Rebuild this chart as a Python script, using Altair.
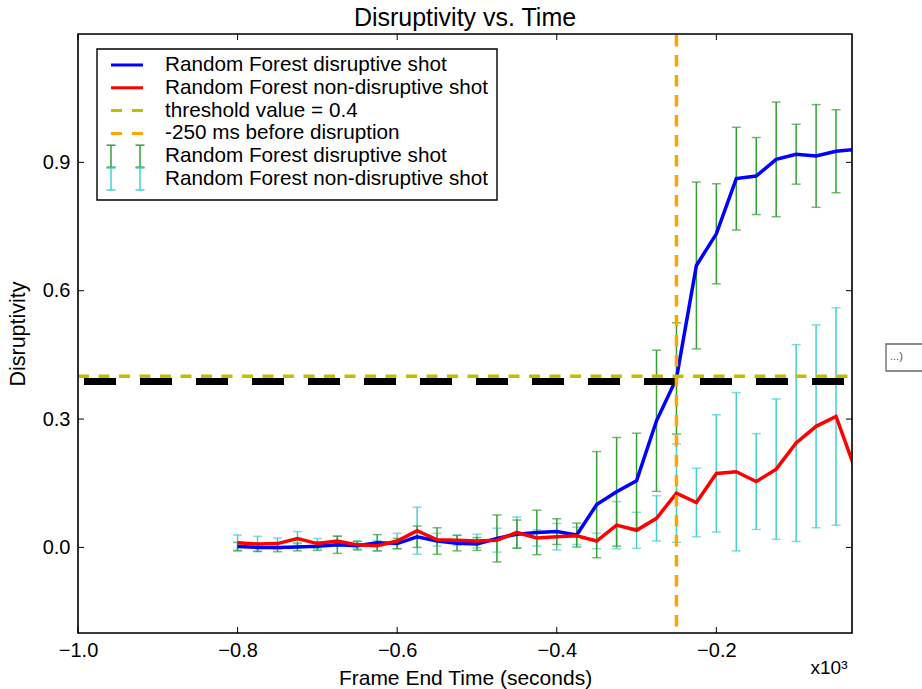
import altair as alt
import pandas as pd

# ---------------- data ----------------
frame_end_time = [-0.800, -0.775, -0.750, -0.725, -0.700, -0.675, -0.650, -0.625,
                  -0.600, -0.575, -0.550, -0.525, -0.500, -0.475, -0.450, -0.425,
                  -0.400, -0.375, -0.350, -0.325, -0.300, -0.275, -0.250, -0.225,
                  -0.200, -0.175, -0.150, -0.125, -0.100, -0.075, -0.050, -0.025]

rf_disruptive = [0.002, 0.000, 0.000, 0.001, 0.003, 0.006, 0.004, 0.011,
                 0.009, 0.025, 0.015, 0.010, 0.008, 0.021, 0.031, 0.035,
                 0.037, 0.029, 0.100, 0.130, 0.156, 0.296, 0.395, 0.659,
                 0.733, 0.862, 0.868, 0.907, 0.919, 0.915, 0.926, 0.930]

rf_disruptive_err = [0.010, 0.009, 0.010, 0.009, 0.010, 0.020, 0.010, 0.019,
                     0.012, 0.025, 0.031, 0.018, 0.015, 0.055, 0.033, 0.052,
                     0.030, 0.028, 0.124, 0.127, 0.111, 0.165, 0.130, 0.195,
                     0.117, 0.120, 0.090, 0.134, 0.070, 0.120, 0.097, 0.100]

rf_non_disruptive = [0.011, 0.008, 0.009, 0.021, 0.009, 0.015, 0.006, 0.004,
                     0.015, 0.039, 0.018, 0.017, 0.015, 0.017, 0.035, 0.022,
                     0.025, 0.027, 0.015, 0.052, 0.040, 0.068, 0.127, 0.105,
                     0.173, 0.177, 0.154, 0.183, 0.244, 0.283, 0.306, 0.178]

rf_non_disruptive_err = [0.018, 0.018, 0.013, 0.016, 0.012, 0.012, 0.009, 0.012,
                         0.018, 0.055, 0.015, 0.012, 0.016, 0.028, 0.036, 0.019,
                         0.031, 0.020, 0.018, 0.055, 0.042, 0.053, 0.115, 0.080,
                         0.137, 0.185, 0.112, 0.164, 0.230, 0.237, 0.254, 0.200]

threshold_value = 0.4
disruption_time = -0.25
black_line_value = 0.388

x_ticks = [-1.0, -0.8, -0.6, -0.4, -0.2]
y_ticks = [0.0, 0.3, 0.6, 0.9]

legend_labels = ["Random Forest disruptive shot",
                 "Random Forest non-disruptive shot",
                 "threshold value = 0.4",
                 "-250 ms before disruption",
                 "Random Forest disruptive shot",
                 "Random Forest non-disruptive shot"]

# ---------------- styling ----------------
W, H = 774, 599
FONT = "Liberation Sans"
BLUE, RED = "#0000ff", "#ff0000"
OLIVE, ORANGE = "#bfbf00", "#ffa500"
GREEN, CYAN = "#34a034", "#44d0d0"
TXT = 20

df = pd.DataFrame({
    "t": frame_end_time,
    "d": rf_disruptive,
    "de": rf_disruptive_err,
    "n": rf_non_disruptive,
    "ne": rf_non_disruptive_err,
})
df["d_lo"] = df["d"] - df["de"]
df["d_hi"] = df["d"] + df["de"]
df["n_lo"] = df["n"] - df["ne"]
df["n_hi"] = df["n"] + df["ne"]

xs = alt.Scale(domain=[-1.0, -0.03], nice=False, zero=False)
ys = alt.Scale(domain=[-0.2, 1.2], nice=False, zero=False)

xaxis = alt.Axis(values=x_ticks, format=".1f", title="Frame End Time (seconds)",
                 ticks=False, domain=False, grid=False, labelPadding=7,
                 titlePadding=7, labelFontSize=TXT, titleFontSize=21,
                 titleFontWeight="normal", labelFont=FONT, titleFont=FONT,
                 labelColor="black", titleColor="black", labelFlush=False)
yaxis = alt.Axis(values=y_ticks, format=".1f", title="Disruptivity",
                 ticks=False, domain=False, grid=False, labelPadding=8,
                 titlePadding=13, labelFontSize=TXT, titleFontSize=21.5,
                 titleFontWeight="normal", labelFont=FONT, titleFont=FONT,
                 labelColor="black", titleColor="black")

X = alt.X("t:Q", scale=xs, axis=xaxis)

def Y(field):
    return alt.Y(f"{field}:Q", scale=ys, axis=yaxis)

base = alt.Chart(df)

# error bars
def errbars(lo, hi, color):
    stem = base.mark_rule(color=color, strokeWidth=1.5, clip=True).encode(
        x=X, y=Y(lo), y2=alt.Y2(f"{hi}:Q"))
    cap_lo = base.mark_tick(color=color, orient="horizontal", size=9,
                            thickness=1.5, clip=True).encode(x=X, y=Y(lo))
    cap_hi = base.mark_tick(color=color, orient="horizontal", size=9,
                            thickness=1.5, clip=True).encode(x=X, y=Y(hi))
    return [stem, cap_lo, cap_hi]

layers = []
layers += errbars("n_lo", "n_hi", CYAN)
layers += errbars("d_lo", "d_hi", GREEN)

line_d = base.mark_line(color=BLUE, strokeWidth=3.5, clip=True).encode(x=X, y=Y("d"))
line_n = base.mark_line(color=RED, strokeWidth=3.5, clip=True).encode(x=X, y=Y("n"))
layers += [line_d, line_n]

thr = alt.Chart(pd.DataFrame({"v": [threshold_value]})).mark_rule(
    color=OLIVE, strokeWidth=3.5, strokeDash=[11, 9.5]).encode(
    y=Y("v"), x=alt.value(0), x2=alt.value(W))
blk = alt.Chart(pd.DataFrame({"v": [black_line_value]})).mark_rule(
    color="black", strokeWidth=7, strokeDash=[32, 24], strokeDashOffset=50).encode(
    y=Y("v"), x=alt.value(0), x2=alt.value(W))
dis = alt.Chart(pd.DataFrame({"t": [disruption_time]})).mark_rule(
    color=ORANGE, strokeWidth=3.5, strokeDash=[11.5, 8.5]).encode(
    x=X, y=alt.value(1), y2=alt.value(H))
layers += [thr, blk, dis]

one = alt.Chart(pd.DataFrame({"a": [0]}))

# plot frame
layers.append(one.mark_rect(fill=None, stroke="black", strokeWidth=1.6).encode(
    x=alt.value(0), x2=alt.value(W), y=alt.value(0), y2=alt.value(H)))

# inner ticks (matplotlib style: ticks point inward, on all four sides)
xt = alt.Chart(pd.DataFrame({"t": x_ticks}))
yt = alt.Chart(pd.DataFrame({"v": y_ticks}))
layers += [
    xt.mark_rule(color="black", strokeWidth=1).encode(x=X, y=alt.value(H), y2=alt.value(H - 6)),
    xt.mark_rule(color="black", strokeWidth=1).encode(x=X, y=alt.value(0), y2=alt.value(6)),
    yt.mark_rule(color="black", strokeWidth=1).encode(y=Y("v"), x=alt.value(0), x2=alt.value(6)),
    yt.mark_rule(color="black", strokeWidth=1).encode(y=Y("v"), x=alt.value(W), x2=alt.value(W - 6)),
]

# legend (drawn by hand to mimic matplotlib's frame and error-bar glyphs)
LX0, LX1, LY0, LY1 = 19, 419, 15, 166
row_y0, row_dy = 31, 22.8
sample_x0, sample_x1, text_x = 33, 65, 87
layers.append(one.mark_rect(fill="white", stroke="black", strokeWidth=1.4).encode(
    x=alt.value(LX0), x2=alt.value(LX1), y=alt.value(LY0), y2=alt.value(LY1)))

line_styles = [
    dict(color=BLUE, strokeWidth=3),
    dict(color=RED, strokeWidth=3),
    dict(color=OLIVE, strokeWidth=3, strokeDash=[11, 10]),
    dict(color=ORANGE, strokeWidth=3, strokeDash=[11, 10]),
]
for i, st in enumerate(line_styles):
    ry = row_y0 + i * row_dy
    layers.append(one.mark_rule(**st).encode(
        x=alt.value(sample_x0), x2=alt.value(sample_x1), y=alt.value(ry)))

for i, col in ((4, GREEN), (5, CYAN)):
    ry = row_y0 + i * row_dy
    for gx in (sample_x0, sample_x1 - 3):
        layers.append(one.mark_rule(color=col, strokeWidth=1.5).encode(
            x=alt.value(gx), y=alt.value(ry - 11), y2=alt.value(ry + 11)))
        for cy in (ry - 11, ry + 11):
            layers.append(one.mark_rule(color=col, strokeWidth=1.5).encode(
                x=alt.value(gx - 4.5), x2=alt.value(gx + 4.5), y=alt.value(cy)))

leg_df = pd.DataFrame({"label": legend_labels,
                       "py": [row_y0 + i * row_dy for i in range(len(legend_labels))]})
layers.append(alt.Chart(leg_df).mark_text(
    align="left", baseline="middle", fontSize=20.7, font=FONT, color="black").encode(
    x=alt.value(text_x), y=alt.Y("py:Q", scale=None), text="label:N"))

# axis multiplier label
layers.append(one.mark_text(text="x10³", align="center", baseline="middle",
                            fontSize=19, font=FONT, color="black").encode(
    x=alt.value(W - 23), y=alt.value(H + 35)))

# small stray box at the right edge of the figure
layers.append(one.mark_rect(fill="white", stroke="#666666", strokeWidth=1.3).encode(
    x=alt.value(808), x2=alt.value(860), y=alt.value(310), y2=alt.value(337)))
layers.append(one.mark_text(text="...)", align="left", baseline="middle",
                            fontSize=11, font=FONT, color="#555555").encode(
    x=alt.value(812), y=alt.value(323)))

chart = alt.layer(*layers).properties(
    width=W, height=H,
    title=alt.TitleParams("Disruptivity vs. Time", fontSize=25, fontWeight="normal",
                          font=FONT, color="black", offset=2),
    autosize=alt.AutoSizeParams(type="none"),
    padding={"left": 78, "top": 34, "right": 922 - 78 - W, "bottom": 689 - 34 - H},
).configure_view(stroke=None).configure(background="white")

chart.save("out.html", embed_options={"renderer": "svg", "actions": False})
